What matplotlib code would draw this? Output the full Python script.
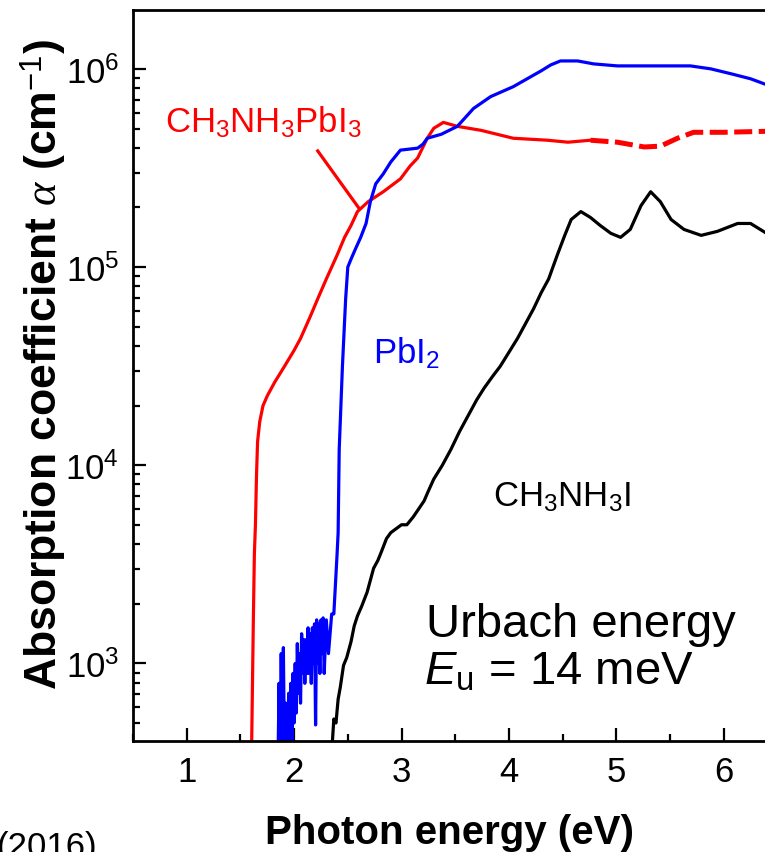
import matplotlib
matplotlib.use("Agg")
import matplotlib.pyplot as plt
import numpy as np

plt.rcParams['font.family'] = ['Liberation Sans', 'DejaVu Sans']
plt.rcParams['mathtext.fontset'] = 'custom'
plt.rcParams['mathtext.rm'] = 'Liberation Sans'
plt.rcParams['mathtext.it'] = 'Liberation Serif:italic'
plt.rcParams['mathtext.sf'] = 'Liberation Sans:italic'
plt.rcParams['mathtext.bf'] = 'Liberation Sans:bold'

# photon energy (eV) and log10 of absorption coefficient (cm^-1)
mapi_E = [1.600, 1.610, 1.620, 1.630, 1.640, 1.650, 1.660, 1.680, 1.710, 1.750,
          1.820, 1.900, 2.000, 2.060, 2.150, 2.220, 2.300, 2.400, 2.470, 2.530,
          2.590, 2.690, 2.830, 2.990, 3.080, 3.150, 3.240, 3.300, 3.390, 3.520,
          3.740, 4.040, 4.360, 4.550, 4.760]
mapi_logA = [2.40, 2.80, 3.20, 3.55, 3.70, 3.95, 4.12, 4.22, 4.30, 4.35,
             4.42, 4.49, 4.58, 4.64, 4.75, 4.84, 4.94, 5.06, 5.15, 5.21,
             5.28, 5.33, 5.38, 5.445, 5.51, 5.55, 5.65, 5.70, 5.73, 5.71,
             5.69, 5.65, 5.64, 5.63, 5.64]
# extrapolated part (dashed)
mapi_ext_E = [4.76, 5.01, 5.26, 5.41, 5.57, 5.72, 6.00, 6.40]
mapi_ext_logA = [5.64, 5.63, 5.606, 5.61, 5.65, 5.68, 5.68, 5.685]

pbi2_E = [1.85, 1.86, 1.87, 1.88, 1.89, 1.90, 1.91, 1.92, 1.93, 1.95,
          1.96, 1.97, 1.98, 1.99, 2.00, 2.01, 2.02, 2.03, 2.04, 2.05,
          2.06, 2.07, 2.08, 2.09, 2.10, 2.11, 2.12, 2.13, 2.14, 2.15,
          2.16, 2.17, 2.18, 2.19, 2.20, 2.21, 2.22, 2.23, 2.24, 2.25,
          2.26, 2.27, 2.28, 2.30, 2.32, 2.35, 2.37, 2.40, 2.41, 2.42,
          2.45, 2.48, 2.50, 2.53, 2.57, 2.62, 2.67, 2.71, 2.76, 2.83,
          2.90, 2.99, 3.15, 3.20, 3.24, 3.37, 3.52, 3.67, 3.83, 4.04,
          4.17, 4.30, 4.39, 4.48, 4.64, 4.79, 5.01, 5.38, 5.69, 5.88,
          6.07, 6.25, 6.40]
pbi2_logA = [2.50, 2.90, 2.55, 3.05, 2.60, 3.08, 2.55, 2.80, 2.50, 2.85,
             2.55, 2.90, 2.60, 2.95, 2.70, 3.00, 2.75, 3.10, 2.85, 3.05,
             2.80, 3.15, 2.95, 3.12, 2.90, 3.12, 2.95, 3.18, 2.95, 3.15,
             2.90, 3.18, 3.00, 3.20, 2.69, 3.22, 3.00, 3.20, 2.95, 3.22,
             3.05, 3.23, 2.95, 3.22, 3.05, 3.25, 3.25, 3.55, 3.66, 4.08,
             4.50, 4.84, 5.00, 5.04, 5.09, 5.15, 5.22, 5.33, 5.42, 5.47,
             5.53, 5.59, 5.60, 5.62, 5.65, 5.67, 5.71, 5.80, 5.86, 5.91,
             5.95, 5.99, 6.02, 6.04, 6.04, 6.025, 6.015, 6.015, 6.015, 6.00,
             5.975, 5.95, 5.92]

mai_E = [2.35, 2.37, 2.39, 2.41, 2.43, 2.46, 2.49, 2.53, 2.56, 2.59,
         2.63, 2.68, 2.71, 2.74, 2.78, 2.81, 2.86, 2.90, 2.95, 3.00,
         3.05, 3.11, 3.16, 3.21, 3.25, 3.30, 3.38, 3.46, 3.54, 3.62,
         3.70, 3.77, 3.85, 3.92, 4.00, 4.08, 4.16, 4.23, 4.30, 4.37,
         4.45, 4.52, 4.58, 4.67, 4.76, 4.85, 4.95, 5.04, 5.13, 5.23,
         5.32, 5.41, 5.51, 5.63, 5.79, 5.94, 6.13, 6.25, 6.40]
mai_logA = [2.55, 2.72, 2.70, 2.82, 2.88, 2.99, 3.03, 3.11, 3.19, 3.24,
            3.29, 3.36, 3.42, 3.48, 3.52, 3.56, 3.63, 3.66, 3.68, 3.70,
            3.70, 3.74, 3.78, 3.82, 3.87, 3.93, 4.00, 4.08, 4.17, 4.25,
            4.33, 4.39, 4.45, 4.50, 4.57, 4.64, 4.72, 4.79, 4.87, 4.94,
            5.06, 5.16, 5.24, 5.28, 5.25, 5.21, 5.17, 5.15, 5.19, 5.31,
            5.38, 5.33, 5.24, 5.19, 5.16, 5.18, 5.22, 5.22, 5.17]

fig = plt.figure(figsize=(7.65, 8.53), dpi=100)
# axes run past the right edge of the canvas
ax = fig.add_axes([133 / 765, 1 - 742 / 853, (7.0 - 0.5) * 107.4 / 765, 731 / 853])

ax.plot(mapi_E, 10 ** np.array(mapi_logA), color='#ff0000', lw=2.3)
ax.plot(mapi_ext_E, 10 ** np.array(mapi_ext_logA), color='#ff0000', lw=3.6,
        dashes=(3.6, 1.3))
ax.plot(pbi2_E, 10 ** np.array(pbi2_logA), color='#0000ff', lw=2.3)
ax.plot(mai_E, 10 ** np.array(mai_logA), color='black', lw=2.3)

ax.set_yscale('log')
ax.set_xlim(0.5, 7.0)
ax.set_ylim(10 ** 2.609, 10 ** 6.297)
ax.set_xticks([1, 2, 3, 4, 5, 6])
ax.set_xticks(np.arange(0.5, 7.0, 1.0), minor=True)

for s in ax.spines.values():
    s.set_linewidth(2.0)
ax.spines['right'].set_visible(False)
ax.tick_params(which='both', direction='in', top=False, right=False,
               labelsize=25, width=1.6, pad=10)
ax.tick_params(which='major', length=9.5)
ax.tick_params(which='minor', length=5)

ax.set_xlabel('Photon energy (eV)', fontsize=29, fontweight='bold')
ax.xaxis.set_label_coords(0.454, -0.0985)
ax.set_ylabel(r'Absorption coefficient $\alpha$ (cm$^{-1}$)', fontsize=32,
              fontweight='bold')
ax.yaxis.set_label_coords(-0.093, 0.516)

ax.text(0.80, 10 ** 5.68, 'CH$_3$NH$_3$PbI$_3$', color='#ff0000', fontsize=25)
ax.plot([2.22, 2.60], [10 ** 5.586, 10 ** 5.30], color='#ff0000', lw=2.3)
ax.text(2.73, 10 ** 4.517, 'PbI$_2$', color='#0000ff', fontsize=25)
ax.text(3.85, 10 ** 3.795, 'CH$_3$NH$_3$I', color='black', fontsize=25)
ax.text(3.225, 10 ** 3.139, 'Urbach energy', fontsize=34)
ax.text(3.21, 10 ** 2.897, r'$\mathsf{E}_{\mathrm{u}}$ = 14 meV', fontsize=34)

fig.text(-0.004, -0.005, '(2016)', fontsize=25)

fig.savefig('out.png', dpi=100)
